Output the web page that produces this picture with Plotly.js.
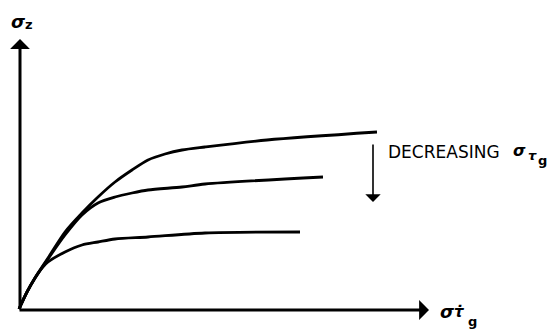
<!DOCTYPE html>
<html>
<head>
<meta charset="utf-8">
<script src="https://cdn.plot.ly/plotly-3.0.1.min.js"></script>
<style>
  html, body { margin: 0; padding: 0; background: #fff; }
  #chart { width: 548px; height: 329px; }
</style>
</head>
<body>
<div id="chart"></div>
<script>
// curves (arbitrary units, origin at the axes corner)
var topX = [0, 8, 16, 29, 46, 63, 79, 96, 113, 129, 146, 163, 186, 248, 358];
var topY = [0, 17, 31, 51, 77, 96, 112, 127, 139, 149, 155, 159, 162, 169, 177];

var midX = [0, 8, 16, 29, 46, 63, 79, 96, 113, 129, 163, 186, 304];
var midY = [0, 17, 31, 50, 74, 94, 106, 112, 116, 119, 122, 125, 132];

var lowX = [0, 8, 16, 23, 29, 46, 63, 79, 96, 129, 186, 281];
var lowY = [0, 17, 31, 41, 47, 57, 64, 67, 70, 72, 76, 77];

var axisLabelY = 'σ';
var axisLabelX = 'σ';
var noteText = 'DECREASING';

function curve(xs, ys) {
  return {
    x: xs,
    y: ys,
    type: 'scatter',
    mode: 'lines',
    line: { color: '#000', width: 2.8, shape: 'spline', smoothing: 0.8 },
    hoverinfo: 'skip',
  };
}

function drawSketch() {
  var data = [curve(topX, topY), curve(midX, midY), curve(lowX, lowY)];

  var sig = { family: 'DejaVu Sans', size: 18, color: '#000' };
  var small = { family: 'DejaVu Sans', size: 13, color: '#000' };

  var layout = {
    width: 548,
    height: 329,
    margin: { l: 0, r: 0, t: 0, b: 0 },
    paper_bgcolor: '#fff',
    plot_bgcolor: '#fff',
    showlegend: false,
    xaxis: { range: [-19, 529], visible: false, fixedrange: true },
    yaxis: { range: [-20, 309], visible: false, fixedrange: true },
    annotations: [
      // axes with arrow heads
      { x: 1, y: 270, ax: 1, ay: -1, axref: 'x', ayref: 'y', text: '',
        showarrow: true, arrowhead: 1, arrowsize: 1.1, arrowwidth: 3, arrowcolor: '#000' },
      { x: 410, y: -1, ax: -1, ay: -1, axref: 'x', ayref: 'y', text: '',
        showarrow: true, arrowhead: 1, arrowsize: 1.1, arrowwidth: 3, arrowcolor: '#000' },
      // decreasing arrow
      { x: 354, y: 107, ax: 354, ay: 166, axref: 'x', ayref: 'y', text: '',
        showarrow: true, arrowhead: 1, arrowsize: 1.6, arrowwidth: 1.6, arrowcolor: '#000' },

      // y label
      { x: -1, y: 288, text: '<b><i>' + axisLabelY + '</i></b>', showarrow: false, font: sig,
        xanchor: 'center', yanchor: 'middle' },
      { x: 10, y: 285, text: '<b>z</b>', showarrow: false, font: small,
        xanchor: 'center', yanchor: 'middle' },

      // x label
      { x: 428, y: -2, text: '<b><i>' + axisLabelX + '</i></b>', showarrow: false, font: sig,
        xanchor: 'center', yanchor: 'middle' },
      { x: 440, y: -3, text: '<b><i>τ̇</i></b>', showarrow: false,
        font: { family: 'DejaVu Sans', size: 15, color: '#000' },
        xanchor: 'center', yanchor: 'middle' },
      { x: 453, y: -12, text: '<b>g</b>', showarrow: false, font: small,
        xanchor: 'center', yanchor: 'middle' },

      // decreasing note
      { x: 367, y: 157, text: noteText, showarrow: false,
        font: { family: 'DejaVu Sans', size: 17, color: '#000' },
        xanchor: 'left', yanchor: 'middle' },
      { x: 500, y: 159, text: '<b><i>σ</i></b>', showarrow: false, font: { family: 'DejaVu Sans', size: 16, color: '#000' },
        xanchor: 'center', yanchor: 'middle' },
      { x: 513, y: 154, text: '<b><i>τ</i></b>', showarrow: false, font: small,
        xanchor: 'center', yanchor: 'middle' },
      { x: 523, y: 149, text: '<b>g</b>', showarrow: false, font: small,
        xanchor: 'center', yanchor: 'middle' },
    ],
  };

  Plotly.newPlot('chart', data, layout, {
    displayModeBar: false,
    staticPlot: true,
  });
}

drawSketch();
</script>
</body>
</html>
